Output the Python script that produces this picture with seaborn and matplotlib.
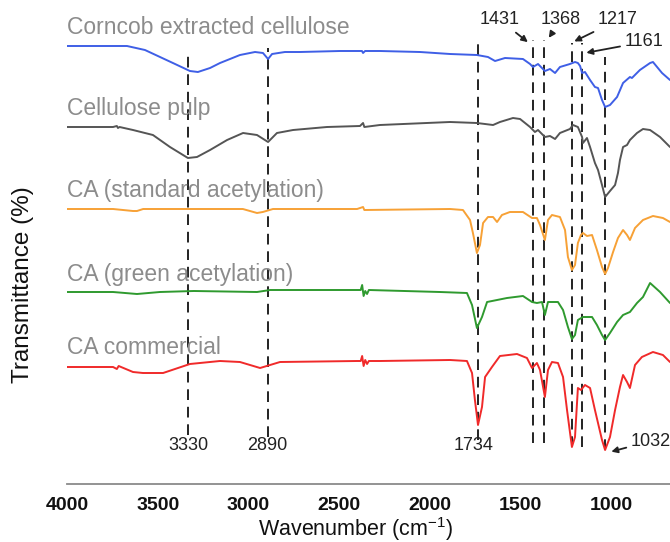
import matplotlib
matplotlib.use("Agg")
import matplotlib.pyplot as plt
import seaborn as sns
import pandas as pd

# ---- FTIR spectra (wavenumber in cm^-1, transmittance in stacked display units) ----
corncob_wn = [4000, 3818, 3669, 3570, 3487, 3404, 3322, 3278, 3211, 3156, 3046, 2963, 2919, 2891,
              2869, 2798, 2715, 2494, 2373, 2367, 2356, 2274, 2053, 1887, 1739, 1678, 1639, 1584,
              1485, 1446, 1430, 1402, 1364, 1336, 1308, 1281, 1226, 1198, 1182, 1170, 1159, 1143,
              1115, 1088, 1071, 1049, 1032, 1005, 966, 933, 895, 884, 840, 784, 768, 718, 674]
corncob_t = [438, 438, 438, 434, 427, 420, 413, 412, 416, 421, 429, 432, 431, 425,
             430, 432, 432, 433, 433, 431, 433, 433, 432, 430, 429, 427, 423, 426,
             425, 420, 417, 420, 413, 415, 411, 417, 420, 422, 421, 418, 411, 412,
             404, 397, 396, 384, 377, 379, 387, 401, 407, 406, 414, 421, 422, 411, 404]

pulp_wn = [4000, 3746, 3725, 3719, 3710, 3636, 3526, 3432, 3333, 3283, 3211, 3117, 3029, 2952,
           2891, 2842, 2753, 2566, 2384, 2367, 2360, 2274, 1887, 1739, 1650, 1612, 1540, 1501,
           1446, 1419, 1402, 1364, 1336, 1308, 1281, 1226, 1209, 1182, 1159, 1154, 1132, 1115,
           1088, 1071, 1049, 1032, 1005, 977, 961, 950, 933, 911, 895, 856, 823, 784, 729, 674]
pulp_t = [357, 357, 358, 356, 357, 354, 349, 337, 326, 327, 334, 344, 351, 349,
          342, 351, 354, 357, 358, 361, 357, 359, 362, 361, 359, 362, 366, 365,
          357, 352, 354, 347, 348, 345, 351, 355, 359, 357, 347, 341, 346, 337,
          321, 314, 299, 287, 293, 299, 311, 324, 337, 339, 344, 351, 355, 354, 347, 337]

std_wn = [4000, 3746, 3636, 3614, 3580, 3300, 3030, 2952, 2920, 2864, 2400, 2367, 2360, 1887,
          1816, 1777, 1761, 1739, 1722, 1705, 1678, 1650, 1628, 1601, 1557, 1485, 1435, 1408,
          1391, 1364, 1347, 1325, 1281, 1253, 1237, 1215, 1198, 1182, 1165, 1154, 1132, 1104,
          1077, 1049, 1032, 1016, 988, 961, 933, 911, 895, 867, 823, 768, 713, 674]
std_t = [275, 275, 273, 273, 275, 275, 275, 271, 272, 275, 275, 277, 274, 275,
         274, 264, 251, 231, 239, 261, 267, 267, 262, 269, 272, 272, 266, 266,
         259, 244, 264, 269, 267, 254, 227, 214, 219, 241, 249, 251, 248, 249,
         234, 217, 210, 216, 232, 246, 254, 249, 244, 256, 264, 268, 266, 262]

green_wn = [4000, 3746, 3614, 3487, 3300, 2952, 2880, 2400, 2380, 2372, 2364, 2355, 2345, 2335,
            1943, 1794, 1766, 1739, 1711, 1683, 1573, 1485, 1435, 1408, 1380, 1364, 1347, 1292,
            1264, 1237, 1215, 1198, 1182, 1154, 1104, 1077, 1049, 1032, 1005, 966, 933, 895,
            856, 823, 784, 729, 674]
green_t = [192, 192, 190, 192, 193, 192, 194, 194, 194, 199, 188, 193, 190, 194,
           192, 191, 179, 156, 167, 182, 186, 188, 182, 181, 182, 169, 182, 182,
           174, 157, 145, 149, 164, 167, 167, 159, 149, 144, 151, 162, 169, 172,
           181, 187, 201, 192, 181]

comm_wn = [4000, 3746, 3725, 3715, 3636, 3581, 3470, 3322, 3156, 3046, 2935, 2880, 2825, 2400,
           2380, 2372, 2364, 2355, 2345, 2335, 2274, 1887, 1794, 1766, 1750, 1733, 1711, 1694,
           1656, 1612, 1518, 1463, 1435, 1408, 1391, 1364, 1347, 1325, 1292, 1264, 1242, 1215,
           1198, 1182, 1165, 1143, 1115, 1088, 1049, 1032, 1005, 977, 950, 933, 911, 895,
           867, 829, 768, 713, 674]
comm_t = [117, 117, 115, 118, 112, 111, 111, 120, 123, 122, 116, 119, 122, 123,
          123, 128, 118, 124, 120, 123, 123, 124, 123, 111, 84, 59, 77, 107,
          117, 128, 130, 126, 116, 121, 114, 87, 114, 122, 121, 107, 74, 37,
          47, 96, 94, 99, 96, 74, 44, 34, 47, 74, 97, 109, 102, 96,
          119, 127, 132, 129, 122]

series_names = ["Corncob extracted cellulose", "Cellulose pulp", "CA (standard acetylation)",
                "CA (green acetylation)", "CA commercial"]
series_wn = [corncob_wn, pulp_wn, std_wn, green_wn, comm_wn]
series_t = [corncob_t, pulp_t, std_t, green_t, comm_t]
series_colors = ["#3f5fe6", "#555555", "#f7a136", "#2f9a2f", "#f02a2a"]

# Characteristic bands marked with dashed guides
bands_bottom = [3330, 2890, 1734]
bands_top = [1431, 1368, 1217, 1161]
band_1032 = 1032

# ---- figure ----
sns.set_theme(style="white")
plt.rcParams["font.family"] = ["Liberation Sans", "DejaVu Sans"]
plt.rcParams["mathtext.default"] = "regular"

fig = plt.figure(figsize=(6.70, 5.42), dpi=100)
ax = fig.add_axes([67 / 670, 58 / 542, 603 / 670, 484 / 542])

frames = []
for name, wn, t in zip(series_names, series_wn, series_t):
    frames.append(pd.DataFrame({"wavenumber": wn, "T": t, "sample": name}))
df = pd.concat(frames, ignore_index=True)

sns.lineplot(data=df, x="wavenumber", y="T", hue="sample", hue_order=series_names,
             palette=series_colors, estimator=None, sort=True, lw=1.4, legend=False, ax=ax)

# sample names above each trace
label_y = [457, 376, 294, 210, 136]
for name, y in zip(series_names, label_y):
    ax.text(4000, y, name, color="#8c8c8c", fontsize=16.5, ha="left", va="center")

# dashed guide lines (wavenumber, lower end, upper end)
guides = [(3330, 49, 434), (2890, 47, 436), (1734, 44, 446), (1431, 41, 444),
          (1368, 41, 444), (1217, 37, 441), (1161, 37, 441), (band_1032, 34, 427)]
for wn, lo, hi in guides:
    ax.plot([wn, wn], [lo, hi], color="#222222", lw=1.4, ls=(0, (5.5, 3.5)), zorder=1)

# band labels below the traces
for wn, xpos in zip(bands_bottom, [3330, 2895, 1757]):
    ax.text(xpos, 38, str(wn), fontsize=13, color="#222222", ha="center", va="center")

# band labels with arrows
arrow = dict(arrowstyle="-|>", color="#222222", lw=1.3, mutation_scale=9,
             shrinkA=1, shrinkB=1)
top_text = [(1612, 464), (1275, 464), (961, 464), (817, 442)]
top_tip = [(1452, 441), (1347, 445), (1209, 442), (1143, 431)]
for wn, tp, tip in zip(bands_top, top_text, top_tip):
    ax.annotate(str(wn), xy=tip, xytext=tp, fontsize=13, color="#222222",
                ha="center", va="center", arrowprops=arrow, annotation_clip=False)
ax.annotate(str(band_1032), xy=(1005, 32), xytext=(779, 43), fontsize=13, color="#222222",
            ha="center", va="center", arrowprops=arrow, annotation_clip=False)

# axes styling
ax.set_xlim(4000, 674)
ax.set_ylim(0, 484)
ax.set_xticks([4000, 3500, 3000, 2500, 2000, 1500, 1000])
ax.set_yticks([])
for side in ["top", "right", "left"]:
    ax.spines[side].set_visible(False)
ax.spines["bottom"].set_color("#8a8a8a")
ax.spines["bottom"].set_linewidth(1.3)
ax.tick_params(axis="x", direction="out", length=6, width=1.3, color="#8a8a8a",
               pad=3, labelsize=14, labelcolor="#111111")
for lab in ax.get_xticklabels():
    lab.set_fontweight("bold")

ax.set_xlabel("Wavenumber (cm$^{-1}$)", fontsize=15.5, color="#111111", va="center", ha="center")
ax.xaxis.set_label_coords(0.479, -0.093)
ax.set_ylabel("Transmittance (%)", fontsize=17.5, color="#111111", va="center", ha="center")
ax.yaxis.set_label_coords(-0.073, 0.411)

fig.savefig("out.png", dpi=100)
